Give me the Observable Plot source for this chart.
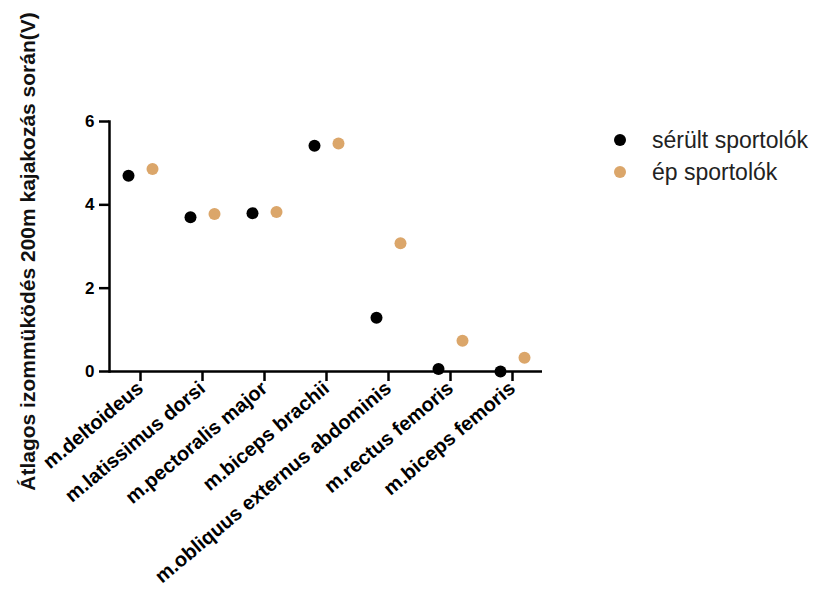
<!DOCTYPE html>
<html>
<head>
<meta charset="utf-8">
<script src="https://cdn.jsdelivr.net/npm/d3@7"></script>
<script src="https://cdn.jsdelivr.net/npm/@observablehq/plot@0.6"></script>
<style>
  body { margin: 0; background: #fff; }
  #wrap { position: relative; width: 817px; height: 602px; font-family: "Liberation Sans", Arial, sans-serif; }
  #wrap svg { font-family: "Liberation Sans", Arial, sans-serif; font-weight: bold; }
  .legend { position: absolute; left: 612px; top: 124px; font-size: 23px; color: #222; font-family: "Liberation Sans", Arial, sans-serif; }
  .legend div { display: flex; align-items: center; height: 32px; }
  .legend span.dot { display: inline-block; width: 12px; height: 12px; border-radius: 50%; margin-right: 26px; margin-left: 2px; }
</style>
</head>
<body>
<div id="wrap"></div>
<script>
const categories = ["m.deltoideus", "m.latissimus dorsi", "m.pectoralis major", "m.biceps brachii", "m.obliquus externus abdominis", "m.rectus femoris", "m.biceps femoris"];
const injured = [4.70, 3.70, 3.80, 5.42, 1.29, 0.06, 0.00];
const healthy = [4.86, 3.78, 3.83, 5.47, 3.08, 0.74, 0.33];
const seriesNames = ["sérült sportolók", "ép sportolók"];
const seriesColors = ["#000000", "#dba66a"];
const yTicks = [0, 2, 4, 6];
const yTitle = "Átlagos izommüködés 200m kajakozás során(V)";

const data = categories.map((c, i) => ({muscle: c, injured: injured[i], healthy: healthy[i]}));

const chart = Plot.plot({
  width: 817,
  height: 602,
  marginLeft: 109,
  marginRight: 275,
  marginTop: 121,
  marginBottom: 231,
  x: {type: "point", domain: categories, padding: 0.46},
  y: {domain: [0, 6]},
  marks: [
    Plot.axisY({ticks: yTicks, tickFormat: d => String(d), tickSize: 10, tickPadding: 5, fontSize: 17, label: null, strokeWidth: 2.5}),
    Plot.axisX({tickSize: 10, tickPadding: 4, tickRotate: -40, fontSize: 20, label: null, strokeWidth: 2.5}),
    Plot.frame({anchor: "left", strokeWidth: 2.5}),
    Plot.ruleY([0], {strokeWidth: 2.5}),
    Plot.text([yTitle], {frameAnchor: "left", textAnchor: "middle", dx: -81, dy: 5, rotate: -90, fontSize: 21, fontWeight: "bold", fill: "#111"}),
    Plot.dot(data, {x: "muscle", y: "injured", dx: -12, r: 6, fill: seriesColors[0]}),
    Plot.dot(data, {x: "muscle", y: "healthy", dx: 12, r: 6, fill: seriesColors[1]})
  ]
});
const wrap = document.getElementById("wrap");
wrap.appendChild(chart);
const legend = document.createElement("div");
legend.className = "legend";
seriesNames.forEach((n, i) => {
  const row = document.createElement("div");
  const d = document.createElement("span");
  d.className = "dot";
  d.style.background = seriesColors[i];
  row.appendChild(d);
  row.appendChild(document.createTextNode(n));
  legend.appendChild(row);
});
wrap.appendChild(legend);
</script>
</body>
</html>
